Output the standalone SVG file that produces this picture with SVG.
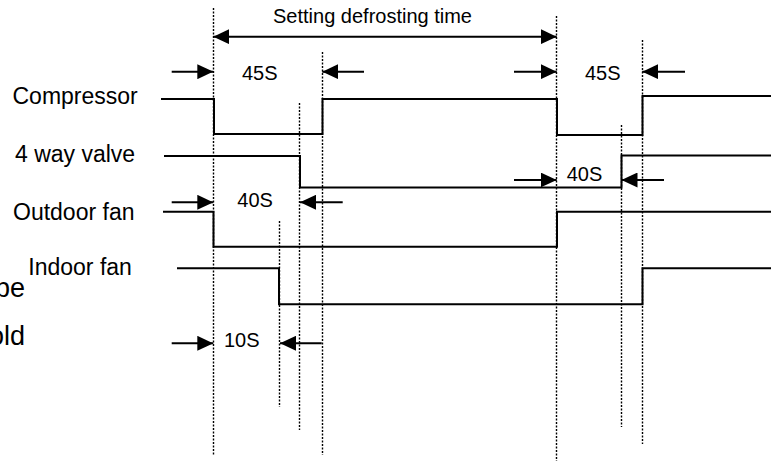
<svg xmlns="http://www.w3.org/2000/svg" width="781" height="462" viewBox="0 0 781 462">
<style>
.sig{fill:none;stroke:#000;stroke-width:2;stroke-linejoin:miter}
.dot{fill:none;stroke:#000;stroke-width:1.4;stroke-dasharray:2 1.5}
.arr{fill:none;stroke:#000;stroke-width:2}
.lbl{font-family:"Liberation Sans",Arial,sans-serif;font-size:23px;fill:#000}
.frag{font-family:"Liberation Sans",Arial,sans-serif;font-size:27px;fill:#000}
.dim{font-family:"Liberation Sans",Arial,sans-serif;font-size:20px;fill:#000}
</style>
<defs>
<marker id="ah" markerUnits="userSpaceOnUse" markerWidth="16" markerHeight="15" refX="16" refY="7.5" orient="auto-start-reverse" viewBox="0 0 16 15">
<path d="M0,0 L16,7.5 L0,15 z" fill="#000"/>
</marker>
</defs>
<rect width="781" height="462" fill="#fff"/>
<g id="guides">
<line class="dot" x1="213.5" y1="8" x2="213.5" y2="455"/>
<line class="dot" x1="322.5" y1="52" x2="322.5" y2="455"/>
<line class="dot" x1="299.5" y1="103" x2="299.5" y2="430"/>
<line class="dot" x1="279.5" y1="221" x2="279.5" y2="407"/>
<line class="dot" x1="556.5" y1="16" x2="556.5" y2="461"/>
<line class="dot" x1="642.5" y1="40" x2="642.5" y2="444"/>
<line class="dot" x1="621.5" y1="125" x2="621.5" y2="427"/>
</g>
<g id="compressor">
<text class="lbl" x="12.5" y="104">Compressor</text>
<polyline class="sig" points="161,99 214,99 214,134 322.5,134 322.5,99 557,99 557,135 642.5,135 642.5,96 771,96"/>
</g>
<g id="four-way-valve">
<text class="lbl" x="15" y="162">4 way valve</text>
<polyline class="sig" points="164,156 300,156 300,187.5 621.5,187.5 621.5,155.5 771,155.5"/>
</g>
<g id="outdoor-fan">
<text class="lbl" x="13" y="220">Outdoor fan</text>
<polyline class="sig" points="163,211.7 213.5,211.7 213.5,246.7 557,246.7 557,211.7 771,211.7"/>
</g>
<g id="indoor-fan">
<text class="lbl" x="28.3" y="275">Indoor fan</text>
<polyline class="sig" points="177,268.3 279,268.3 279,304.3 642.5,304.3 642.5,268.3 771,268.3"/>
</g>
<g id="fragments">
<text class="frag" x="-5" y="297">pe</text>
<text class="frag" x="-11" y="345">old</text>
</g>
<g id="connectors">
<line class="arr" x1="213.3" y1="36.7" x2="556.7" y2="36.7" marker-start="url(#ah)" marker-end="url(#ah)"/>
<line class="arr" x1="171.7" y1="71.7" x2="213.3" y2="71.7" marker-end="url(#ah)"/>
<line class="arr" x1="364" y1="71.7" x2="322.3" y2="71.7" marker-end="url(#ah)"/>
<line class="arr" x1="514" y1="71.7" x2="556.7" y2="71.7" marker-end="url(#ah)"/>
<line class="arr" x1="685" y1="71.7" x2="642.3" y2="71.7" marker-end="url(#ah)"/>
<line class="arr" x1="171.7" y1="202.3" x2="213.3" y2="202.3" marker-end="url(#ah)"/>
<line class="arr" x1="342.7" y1="202.3" x2="300" y2="202.3" marker-end="url(#ah)"/>
<line class="arr" x1="514" y1="180" x2="556.7" y2="180" marker-end="url(#ah)"/>
<line class="arr" x1="664" y1="180" x2="621.5" y2="180" marker-end="url(#ah)"/>
<line class="arr" x1="171.7" y1="343.3" x2="213.3" y2="343.3" marker-end="url(#ah)"/>
<line class="arr" x1="321.7" y1="343.3" x2="280" y2="343.3" marker-end="url(#ah)"/>
</g>
<g id="dim-labels">
<text class="dim" x="273" y="23">Setting defrosting time</text>
<text class="dim" x="242" y="80">45S</text>
<text class="dim" x="585" y="80">45S</text>
<text class="dim" x="237.3" y="207.3">40S</text>
<text class="dim" x="566.7" y="180.7">40S</text>
<text class="dim" x="224" y="347.3">10S</text>
</g>
</svg>
